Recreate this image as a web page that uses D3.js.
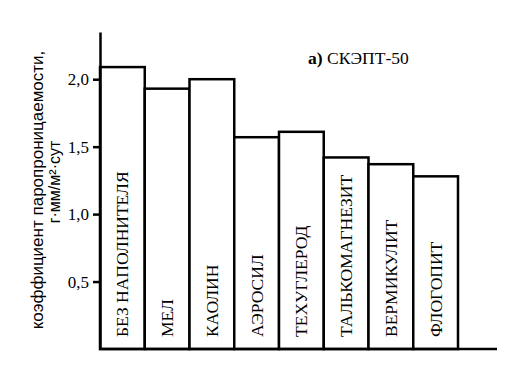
<!DOCTYPE html>
<html>
<head>
<meta charset="utf-8">
<script src="https://cdn.jsdelivr.net/npm/d3@7"></script>
<style>
  body { margin: 0; background: #fff; }
  svg { display: block; }
</style>
</head>
<body>
<div id="chart"></div>
<script>
// DATA
const fillers = ["БЕЗ НАПОЛНИТЕЛЯ", "МЕЛ", "КАОЛИН", "АЭРОСИЛ", "ТЕХУГЛЕРОД", "ТАЛЬКОМАГНЕЗИТ", "ВЕРМИКУЛИТ", "ФЛОГОПИТ"];
const permeability = [2.09, 1.93, 2.0, 1.57, 1.61, 1.42, 1.37, 1.28];
const yTicks = [0.5, 1.0, 1.5, 2.0];
const tickLabels = ["0,5", "1,0", "1,5", "2,0"];
const titleParts = ["а)", " СКЭПТ-50"];
const yTitle = ["коэффициент паропроницаемости,", "г·мм/м²·сут"];

const data = fillers.map((f, i) => ({ name: f, value: permeability[i] }));

// SVG
const W = 507, H = 365;
const svg = d3.select("#chart")
  .append("svg")
    .attr("width", W)
    .attr("height", H);

// SCALES
const xs = d3.scaleBand()
  .domain(fillers)
  .range([100, 458])
  .padding(0);

const ys = d3.scaleLinear()
  .domain([0, 2.35])
  .range([349, 32]);

// BARS
svg.selectAll("rect.bar")
  .data(data)
  .enter()
  .append("rect")
    .attr("class", "bar")
    .attr("x", d => xs(d.name))
    .attr("y", d => ys(d.value))
    .attr("width", xs.bandwidth())
    .attr("height", d => ys(0) - ys(d.value))
    .attr("fill", "#fff")
    .attr("stroke", "#000")
    .attr("stroke-width", 2.5);

// bar labels, rotated, reading upward
svg.selectAll("text.lbl")
  .data(data)
  .enter()
  .append("text")
    .attr("class", "lbl")
    .attr("transform", d => `translate(${xs(d.name) + xs.bandwidth() / 2 + 6},${ys(0) - 12}) rotate(-90)`)
    .style("font-family", "'Liberation Serif', serif")
    .style("font-size", "17.5px")
    .text(d => d.name);

// Y AXIS
const yAxis = d3.axisLeft(ys)
  .tickValues(yTicks)
  .tickFormat((d, i) => tickLabels[i])
  .tickSize(7)
  .tickSizeOuter(0)
  .tickPadding(4);

const gy = svg.append("g")
  .attr("transform", "translate(100,0)")
  .call(yAxis);
gy.select(".domain").attr("stroke-width", 2.5);
gy.selectAll(".tick line").attr("stroke-width", 2.5);
gy.selectAll(".tick text")
  .style("font-family", "'Liberation Serif', serif")
  .style("font-size", "17px")
  .attr("fill", "#000");

// baseline
svg.append("line")
  .attr("x1", 99)
  .attr("x2", 497)
  .attr("y1", ys(0))
  .attr("y2", ys(0))
  .attr("stroke", "#000")
  .attr("stroke-width", 2.5);

// Y TITLE
svg.append("text")
  .attr("transform", "translate(43,190) rotate(-90)")
  .attr("text-anchor", "middle")
  .style("font-family", "'Liberation Sans', sans-serif")
  .style("font-size", "17px")
  .text(yTitle[0]);

svg.append("text")
  .attr("transform", "translate(60,182) rotate(-90)")
  .attr("text-anchor", "middle")
  .style("font-family", "'Liberation Sans', sans-serif")
  .style("font-size", "16px")
  .text(yTitle[1]);

// TITLE
const t = svg.append("text")
  .attr("x", 308)
  .attr("y", 64)
  .style("font-family", "'Liberation Serif', serif")
  .style("font-size", "17.5px");
t.append("tspan").style("font-weight", "bold").text(titleParts[0]);
t.append("tspan").text(titleParts[1]);
</script>
</body>
</html>
